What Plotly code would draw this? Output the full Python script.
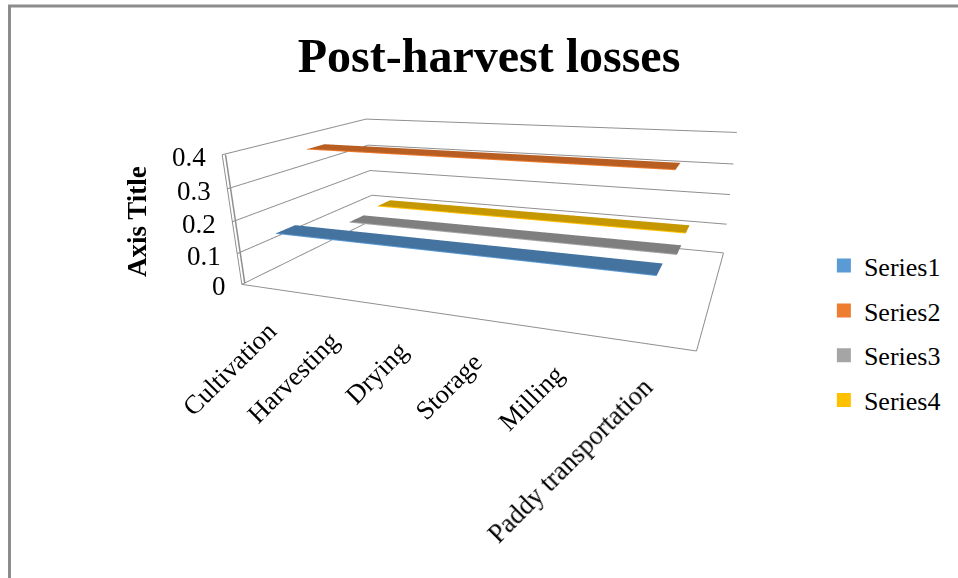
import plotly.graph_objects as go

categories = ["Cultivation", "Harvesting", "Drying", "Storage", "Milling", "Paddy transportation"]
series_names = ["Series1", "Series2", "Series3", "Series4"]
series1 = [0.16, 0.16, 0.16, 0.16, 0.16, 0.16]
series2 = [0.38, 0.38, 0.38, 0.38, 0.38, 0.38]
series3 = [0.09, 0.09, 0.09, 0.09, 0.09, 0.09]
series4 = [0.1, 0.1, 0.1, 0.1, 0.1, 0.1]
value_ticks = [0, 0.1, 0.2, 0.3, 0.4]
value_labels = ["0", "0.1", "0.2", "0.3", "0.4"]
bright = ["#5B9BD5", "#ED7D31", "#A5A5A5", "#FFC000"]
shaded = ["#44739F", "#B85E22", "#7F7F7F", "#C59700"]
all_series = [series1, series2, series3, series4]

SERIF = "Liberation Serif"
GRID = "#8F8F8F"
positions = list(range(len(categories)))
half_depth = 0.24
x_range = [-0.5, 5.5]
y_range = [-0.5, 3.5]
z_range = [0, 0.4]

fig = go.Figure()
for i, vals in enumerate(all_series):
    # Flat ribbon for the series, with a lighter line along its front edge
    fig.add_trace(go.Surface(
        x=[positions, positions],
        y=[[i - half_depth] * len(positions), [i + half_depth] * len(positions)],
        z=[vals, vals],
        surfacecolor=[[0] * len(positions)] * 2,
        colorscale=[[0, shaded[i]], [1, shaded[i]]],
        showscale=False, hoverinfo="skip", showlegend=False,
        lighting=dict(ambient=1, diffuse=0, specular=0, fresnel=0),
    ))
    fig.add_trace(go.Scatter3d(
        x=positions, y=[i - half_depth] * len(positions), z=vals, mode="lines",
        line=dict(color=bright[i], width=2), hoverinfo="skip", showlegend=False,
    ))
    # Legend swatch
    fig.add_trace(go.Scatter3d(
        x=[None], y=[None], z=[None], mode="markers", name=series_names[i], legendgroup=series_names[i],
        marker=dict(symbol="square", size=14, color=bright[i]),
    ))

# Vertical value axis close to the front-left corner of the box
fig.add_trace(go.Scatter3d(
    x=[-0.47] * len(value_ticks), y=[-0.47] * len(value_ticks), z=[0.001, 0.1, 0.2, 0.3, 0.399], mode="lines",
    line=dict(color=GRID, width=3), hoverinfo="skip", showlegend=False,
))

scene_notes = []
for pos, label in zip(positions, categories):
    scene_notes.append(dict(
        x=pos, y=y_range[0], z=z_range[0], text=label, showarrow=False, textangle=-45, xanchor="right", yanchor="top",
        yshift=-25, xshift=13, font=dict(family=SERIF, size=26.5, color="black"),
    ))
for tick, label in zip(value_ticks, value_labels):
    scene_notes.append(dict(
        x=x_range[0], y=y_range[0], z=tick, text=label, showarrow=False, xanchor="right", yanchor="middle",
        xshift=-14, yshift=-2, font=dict(family=SERIF, size=27, color="black"),
    ))

axis_common = dict(
    showbackground=False, gridcolor=GRID, gridwidth=2, linecolor=GRID, linewidth=2, showline=True, zeroline=False,
    showticklabels=False, ticks="", title="", showspikes=False,
)
fig.update_layout(
    width=958, height=578, margin=dict(l=0, r=0, t=0, b=0), paper_bgcolor="white", hovermode=False,
    title=dict(text="<b>Post-harvest losses</b>", x=0.5105, y=0.905, xanchor="center", yanchor="middle",
               font=dict(family=SERIF, size=48, color="black")),
    legend=dict(x=0.86, y=0.581, xanchor="left", yanchor="top", tracegroupgap=8,
                font=dict(family=SERIF, size=26, color="black")),
    annotations=[dict(text="<b>Axis Title</b>", x=137/958, y=1-222/578, xref="paper", yref="paper", showarrow=False,
                      xanchor="center", yanchor="middle",
                      textangle=-90, font=dict(family=SERIF, size=27, color="black"))],
    shapes=[
        dict(type="line", xref="paper", yref="paper", x0=9.5/958, x1=9.5/958, y0=0, y1=1-6/578,
             line=dict(color="#8C8C8C", width=3)),
        dict(type="line", xref="paper", yref="paper", x0=8/958, x1=1, y0=1-6/578, y1=1-6/578,
             line=dict(color="#8C8C8C", width=3)),
    ],
    scene=dict(
        domain=dict(x=[0, 1], y=[0, 1]), bgcolor="white",
        aspectmode="manual", aspectratio=dict(x=2.0, y=1.1746, z=0.5902),
        camera=dict(eye=dict(x=1.1598, y=-2.9178, z=0.8043),
                    center=dict(x=-0.0188, y=-0.1313, z=-0.3573),
                    up=dict(x=-0.12, y=0.3393, z=0.9337)),
        xaxis=dict(axis_common, range=x_range, showgrid=False, tickvals=positions),
        yaxis=dict(axis_common, range=y_range, showgrid=False, tickvals=[]),
        zaxis=dict(axis_common, range=z_range, tickvals=value_ticks),
        annotations=scene_notes,
    ),
)
fig.write_html("out.html")
